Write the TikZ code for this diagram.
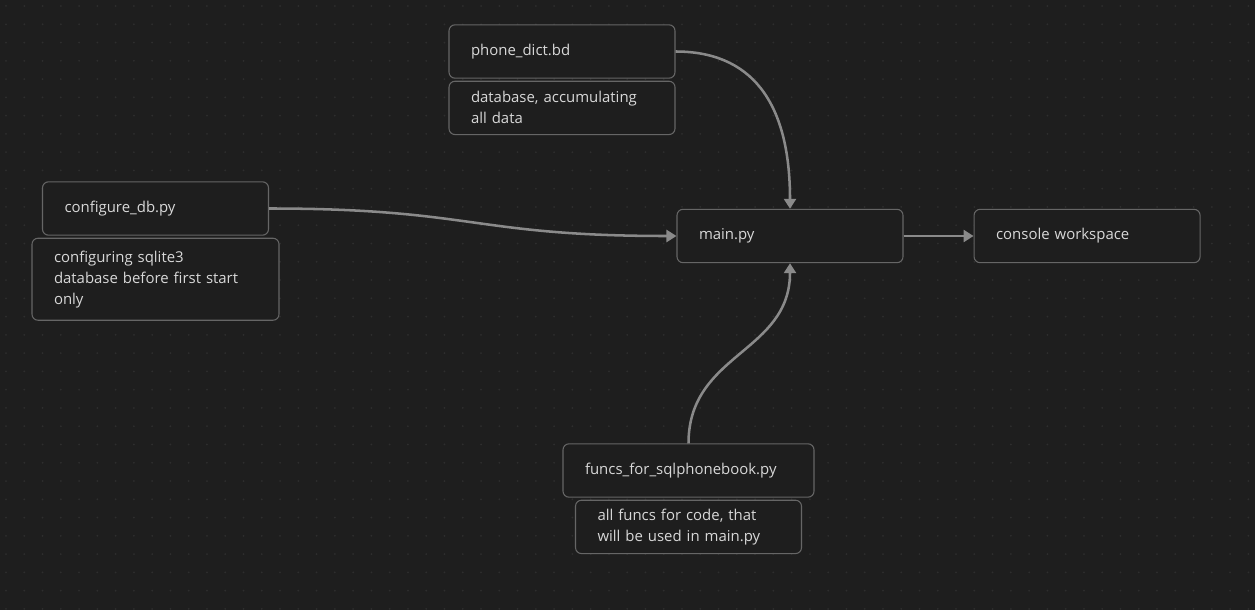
\documentclass[tikz,border=0pt]{standalone}
\usepackage{fontspec}
\setmainfont{Open Sans}
\usetikzlibrary{positioning,arrows.meta}
\definecolor{bg}{HTML}{1E1E1E}
\definecolor{dots}{HTML}{2E2E2E}
\definecolor{edge}{HTML}{666666}
\definecolor{txt}{HTML}{D8D8D8}
\definecolor{wire}{HTML}{8A8A8A}

\begin{document}
\begin{tikzpicture}[x=0.75pt, y=-0.75pt, node distance=1.5pt,
  every node/.style={font=\fontsize{11.2}{15.75}\selectfont, text=txt},
  box/.style={draw=edge, line width=0.8pt, fill=bg, rounded corners=4.5pt, inner xsep=16.5pt, inner ysep=0pt, minimum height=40pt, text width=136.5pt, align=left},
  arr/.style={draw=wire, line width=1.9pt, -{Triangle[length=7.5pt,width=9pt]}}]

	% pozadí s tečkami
	\fill[bg] (0,0) rectangle (1255,610);
	\useasboundingbox (0,0) rectangle (1255,610);
	\foreach \i in {0,...,68}
		\foreach \j in {0,...,33}
			\fill[dots] (6+18.27*\i,6+18.27*\j) circle (0.75pt);

	% databáze
	\node[box] (dict) at (562,51.5) {phone\_dict.bd};
	\node[box, below=of dict] (dictnote) {database, accumulating\\all data};

	% konfigurace
	\node[box] (cfg) at (155.5,208.5) {configure\_db.py};
	\node[box, below=of cfg, text width=152.25pt, minimum height=61.5pt] (cfgnote) {configuring sqlite3\\database before first start\\only};

	% hlavní soubor
	\node[box] (main) at (790,236) {main.py};
	\node[box, right=52.5pt of main] (console) {console workspace};

	% funkce
	\node[box, text width=155.25pt] (funcs) at (688.5,470.5) {funcs\_for\_sqlphonebook.py};
	\node[box, below=of funcs] (funcsnote) {all funcs for code, that\\will be used in main.py};

	% šipky
	\draw[arr] (dict.east) .. controls (750,51.5) and (790,100) .. (main.north);
	\draw[arr] (cfg.east) .. controls (473,208.5) and (473,236) .. (main.west);
	\draw[arr] (funcs.north) .. controls (688.5,353) and (790,353) .. (main.south);
	\draw[arr] (main.east) -- (console.west);

\end{tikzpicture}
\end{document}
